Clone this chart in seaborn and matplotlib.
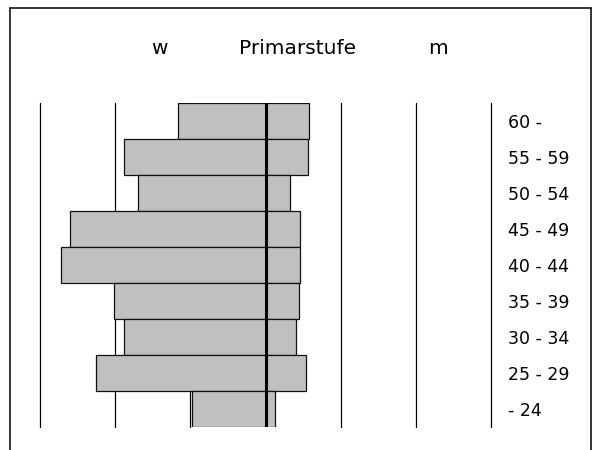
import matplotlib
matplotlib.use('Agg')
import matplotlib.pyplot as plt
import seaborn as sns
import numpy as np
from matplotlib.lines import Line2D

# age groups, top to bottom
age_groups = ['60 -', '55 - 59', '50 - 54', '45 - 49', '40 - 44',
              '35 - 39', '30 - 34', '25 - 29', '- 24']
women = [5.8, 9.4, 8.5, 13.0, 13.6, 10.1, 9.4, 11.3, 4.9]
men = [2.9, 2.8, 1.6, 2.3, 2.3, 2.2, 2.0, 2.7, 0.6]
grid_ticks = [-15, -10, -5, 0, 5, 10, 15]

sns.set_style('white')
plt.rcParams['font.family'] = ['DejaVu Sans']
plt.rcParams['text.color'] = 'black'
plt.rcParams['ytick.color'] = 'black'

fig = plt.figure(figsize=(5.98, 4.5), dpi=100)
ax = fig.add_axes([40 / 598, 1 - 427 / 450, 451 / 598, 324 / 450])

# background gridlines
for g in grid_ticks:
    if g != 0:
        ax.axvline(g, color='black', linewidth=0.9, zorder=0, clip_on=False)

bar_kw = dict(orient='h', width=1.0, color='#c0c0c0', saturation=1,
              edgecolor='#111111', linewidth=0.9, ax=ax)
sns.barplot(x=[-v for v in women], y=age_groups, **bar_kw)
sns.barplot(x=men, y=age_groups, **bar_kw)

# center line on top
ax.axvline(0, color='black', linewidth=2.2, zorder=5)

ax.set_xlim(-15, 15)
ax.set_ylim(len(age_groups) - 0.5, -0.5)
ax.set_xticks([])
ax.set_xlabel('')
ax.set_ylabel('')
ax.yaxis.tick_right()
ax.tick_params(axis='y', length=0, pad=12.2, labelsize=12.5, labelcolor='black')
for s in ax.spines.values():
    s.set_visible(False)

# header texts
fig.text(159 / 598, 1 - 54 / 450, 'w', ha='center', va='baseline', fontsize=14.5)
fig.text(298 / 598, 1 - 54 / 450, 'Primarstufe', ha='center', va='baseline', fontsize=14.5)
fig.text(438 / 598, 1 - 54 / 450, 'm', ha='center', va='baseline', fontsize=14.5)

# outer frame (open at the bottom)
fl, fr, ft = 10 / 598, 591 / 598, 1 - 8 / 450
for xs, ys in [([fl, fl], [0, ft]), ([fl, fr], [ft, ft]), ([fr, fr], [0, ft])]:
    fig.add_artist(Line2D(xs, ys, color='black', linewidth=1.1, transform=fig.transFigure))

fig.savefig('out.png', dpi=100)
